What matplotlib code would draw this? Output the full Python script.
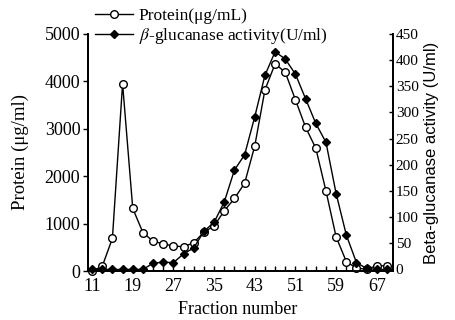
import matplotlib
matplotlib.use("Agg")
import matplotlib.pyplot as plt
import numpy as np

plt.rcParams['font.family'] = ['Liberation Serif', 'DejaVu Serif']
plt.rcParams['mathtext.fontset'] = 'stix'

fractions = [11, 13, 15, 17, 19, 21, 23, 25, 27, 29, 31, 33, 35, 37, 39,
             41, 43, 45, 47, 49, 51, 53, 55, 57, 59, 61, 63, 65, 67, 69]
protein = [0, 100, 690, 3950, 1320, 810, 630, 570, 530, 510, 600, 820, 950, 1270, 1530,
           1850, 2640, 3820, 4370, 4190, 3610, 3030, 2590, 1690, 720, 200, 60, 40, 110, 110]
activity = [0, 0, 0, 0, 0, 0, 12, 14, 13, 30, 41, 73, 90, 129, 190,
            219, 292, 371, 416, 402, 373, 326, 279, 243, 145, 66, 13, 2, 0, 0]
xtick_labels = [11, 19, 27, 35, 43, 51, 59, 67]
left_ticks = [0, 1000, 2000, 3000, 4000, 5000]
right_ticks = [0, 50, 100, 150, 200, 250, 300, 350, 400, 450]

fig = plt.figure(figsize=(4.56, 3.2), dpi=100)
ax = fig.add_axes([0.193, 0.153, 0.669, 0.741])
ax2 = ax.twinx()

l1, = ax.plot(fractions, protein, '-o', color='black', lw=1.0, ms=5.5,
              mfc='white', mec='black', mew=1.0, clip_on=False, zorder=3,
              label='Protein(μg/mL)')
l2, = ax2.plot(fractions, activity, '-D', color='black', lw=1.0, ms=4.5,
               mfc='black', mec='black', clip_on=False, zorder=3,
               label=r'$\beta$-glucanase activity(U/ml)')

ax.set_xlim(10.2, 70.2)
ax.set_ylim(0, 5000)
ax2.set_ylim(-3, 450)

ax.set_xticks(xtick_labels)
ax.set_xticklabels([str(v) for v in xtick_labels])
ax.set_xticks(fractions, minor=True)
ax.tick_params(axis='x', which='both', direction='in', length=3.5, width=1.0,
               labelsize=13, pad=5)
ax.set_yticks(left_ticks)
ax.tick_params(axis='y', which='major', direction='out', length=3.5, width=1.0,
               labelsize=13, pad=2)
ax2.set_yticks(right_ticks)
ax2.tick_params(axis='y', which='major', direction='in', length=3, width=1.0,
                labelsize=11, pad=2)

for a in (ax, ax2):
    a.spines['top'].set_visible(False)
    for s in ('left', 'right', 'bottom'):
        a.spines[s].set_linewidth(1.3)

ax.set_xlabel('Fraction number', fontsize=13)
ax.xaxis.set_label_coords(0.49, -0.125, transform=ax.transAxes)
ax.xaxis.label.set_va('top')
ax.set_ylabel('Protein (μg/ml)', fontsize=13.5, labelpad=11.5)
ax2.set_ylabel('Beta-glucanase activity (U/ml)', fontsize=12,
               family=['Liberation Sans', 'DejaVu Sans'], labelpad=4)

fig.legend(handles=[l1, l2], loc='upper left', bbox_to_anchor=(0.205, 0.98),
           frameon=False, fontsize=12.5, handlelength=2.2, handletextpad=0.3,
           labelspacing=0.1, borderaxespad=0.1, borderpad=0.0, numpoints=1)

fig.savefig('out.png', dpi=100)
